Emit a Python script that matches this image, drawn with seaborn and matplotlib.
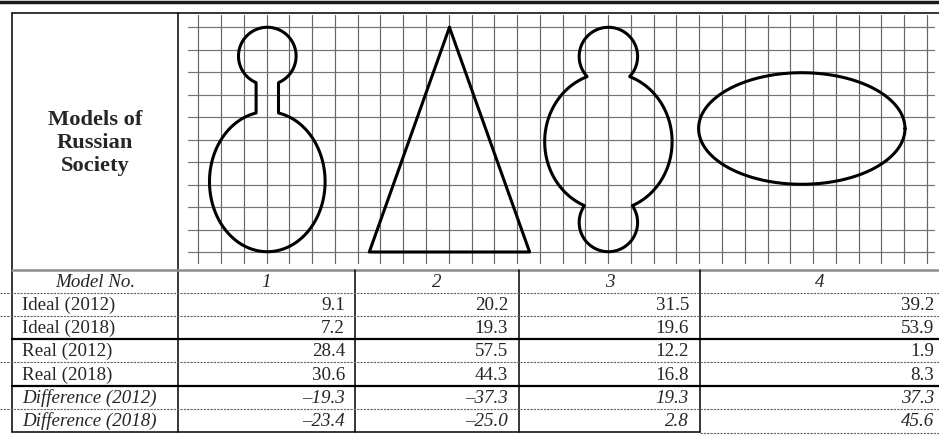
import numpy as np
import matplotlib
matplotlib.use("Agg")
import matplotlib.pyplot as plt
import seaborn as sns

# ---- table data ----
model_no = ["1", "2", "3", "4"]
row_labels = ["Ideal (2012)", "Ideal (2018)", "Real (2012)", "Real (2018)",
              "Difference (2012)", "Difference (2018)"]
ideal_2012 = [9.1, 20.2, 31.5, 39.2]
ideal_2018 = [7.2, 19.3, 19.6, 53.9]
real_2012 = [28.4, 57.5, 12.2, 1.9]
real_2018 = [30.6, 44.3, 16.8, 8.3]
diff_2012 = [-19.3, -37.3, 19.3, 37.3]
diff_2018 = [-23.4, -25.0, 2.8, 45.6]
rows = [ideal_2012, ideal_2018, real_2012, real_2018, diff_2012, diff_2018]
italic_rows = [False, False, False, False, True, True]

sns.set_theme(style="white")
plt.rcParams['font.family'] = ['Liberation Serif', 'DejaVu Serif']

W, H = 939, 436
fig = plt.figure(figsize=(W / 100, H / 100), dpi=100)
ax = fig.add_axes([0, 0, 1, 1])
ax.set_xlim(0, W)
ax.set_ylim(H, 0)
ax.axis('off')

# layout (pixels)
left, top = 12, 13
head_x = 178
col_edges = [head_x, 355, 519, 700, W]
num_right = [345, 508, 689, 934]
row_edges = [270, 293, 316, 339, 362, 386, 409, 432]
fs = 13.7

# ---- graph paper ----
x0, dx = 198.3, 22.77
y0, dy = 27.3, 22.47
gx = lambda i: x0 + dx * i
gy = lambda j: y0 + dy * j
for i in range(33):
    ax.plot([gx(i), gx(i)], [15, 263], color='0.4', lw=0.85, zorder=1)
for j in range(11):
    ax.plot([188, 934], [gy(j), gy(j)], color='0.45', lw=0.85, zorder=1)

# ---- shapes ----
def outline(funcs, xr, yr):
    xs = np.arange(xr[0], xr[1], 0.3)
    ys = np.arange(yr[0], yr[1], 0.3)
    X, Y = np.meshgrid(xs, ys)
    F = np.min([f(X, Y) for f in funcs], axis=0)
    ax.contour(X, Y, F, levels=[0], colors='black', linewidths=2.2, zorder=3)

circle = lambda cx, cy, r: (lambda X, Y: np.hypot(X - cx, Y - cy) - r)
ellipse = lambda cx, cy, a, b: (lambda X, Y: (np.hypot((X - cx) / a, (Y - cy) / b) - 1) * min(a, b))
rect = lambda cx, cy, w, h: (lambda X, Y: np.maximum(np.abs(X - cx) - w, np.abs(Y - cy) - h))

# model 1: head, neck, body
c1 = gx(3.03)
outline([circle(c1, gy(1.28), 28.8), rect(c1, 92, 11.2, 28), ellipse(c1, 181.7, 57.8, 70)],
        (195, 340), (20, 260))

# model 2: triangle
tri_x = [gx(11.03), gx(7.51), gx(14.55), gx(11.03)]
tri_y = [gy(0), gy(10), gy(10), gy(0)]
sns.lineplot(x=tri_x, y=tri_y, sort=False, estimator=None, color='black', lw=2.2, ax=ax, zorder=3)

# model 3: head, body, foot
c3 = gx(18.01)
outline([circle(c3, 56.5, 29.2), ellipse(c3, 141.7, 63.7, 69), circle(c3, 222.5, 29.2)],
        (535, 685), (20, 260))

# model 4: ellipse
t = np.linspace(0, 2 * np.pi, 300)
sns.lineplot(x=801.8 + 103.2 * np.cos(t), y=128.5 + 55.8 * np.sin(t), sort=False,
             estimator=None, color='black', lw=2.2, ax=ax, zorder=3)

# ---- table rules ----
ax.plot([0, W], [1.7, 1.7], color='#1a1a1a', lw=2.5)
ax.plot([left, W], [top, top], color='black', lw=1.1)
ax.plot([left, left], [top, 432], color='black', lw=1.1)
ax.plot([head_x, head_x], [top, 432], color='black', lw=1.1)
ax.plot([left, W], [270, 270], color='0.55', lw=1.8)
for xe in col_edges[1:4]:
    ax.plot([xe, xe], [270, 432], color='black', lw=1.1)
for ye in [293, 316, 362, 409]:
    ax.plot([0, W], [ye, ye], color='0.4', lw=0.8, ls=(0, (2, 1)))
for ye in [339, 386]:
    ax.plot([left, W], [ye, ye], color='black', lw=1.6)
ax.plot([left, 700], [432, 432], color='black', lw=1.1)
ax.plot([700, W], [433, 433], color='0.4', lw=0.8, ls=(0, (2, 1)))

# ---- text ----
ax.text((left + head_x) / 2, 143, "Models of\nRussian\nSociety", ha='center', va='center',
        fontsize=16.2, fontweight='bold', linespacing=1.22)

centers = [(row_edges[k] + row_edges[k + 1]) / 2 + 1 for k in range(7)]
ax.text((left + head_x) / 2, centers[0], "Model No.", ha='center', va='center',
        fontsize=fs, style='italic')
for c, m in enumerate(model_no):
    ax.text((col_edges[c] + col_edges[c + 1]) / 2, centers[0], m, ha='center', va='center',
            fontsize=fs, style='italic')

for r, (lab, vals) in enumerate(zip(row_labels, rows)):
    st = 'italic' if italic_rows[r] else 'normal'
    yc = centers[r + 1]
    ax.text(22, yc, lab, ha='left', va='center', fontsize=fs, style=st)
    for c, v in enumerate(vals):
        ax.text(num_right[c], yc, f"{v:.1f}".replace("-", "\u2013"), ha='right', va='center',
                fontsize=fs, style=st)

fig.savefig("out.png", dpi=100)
